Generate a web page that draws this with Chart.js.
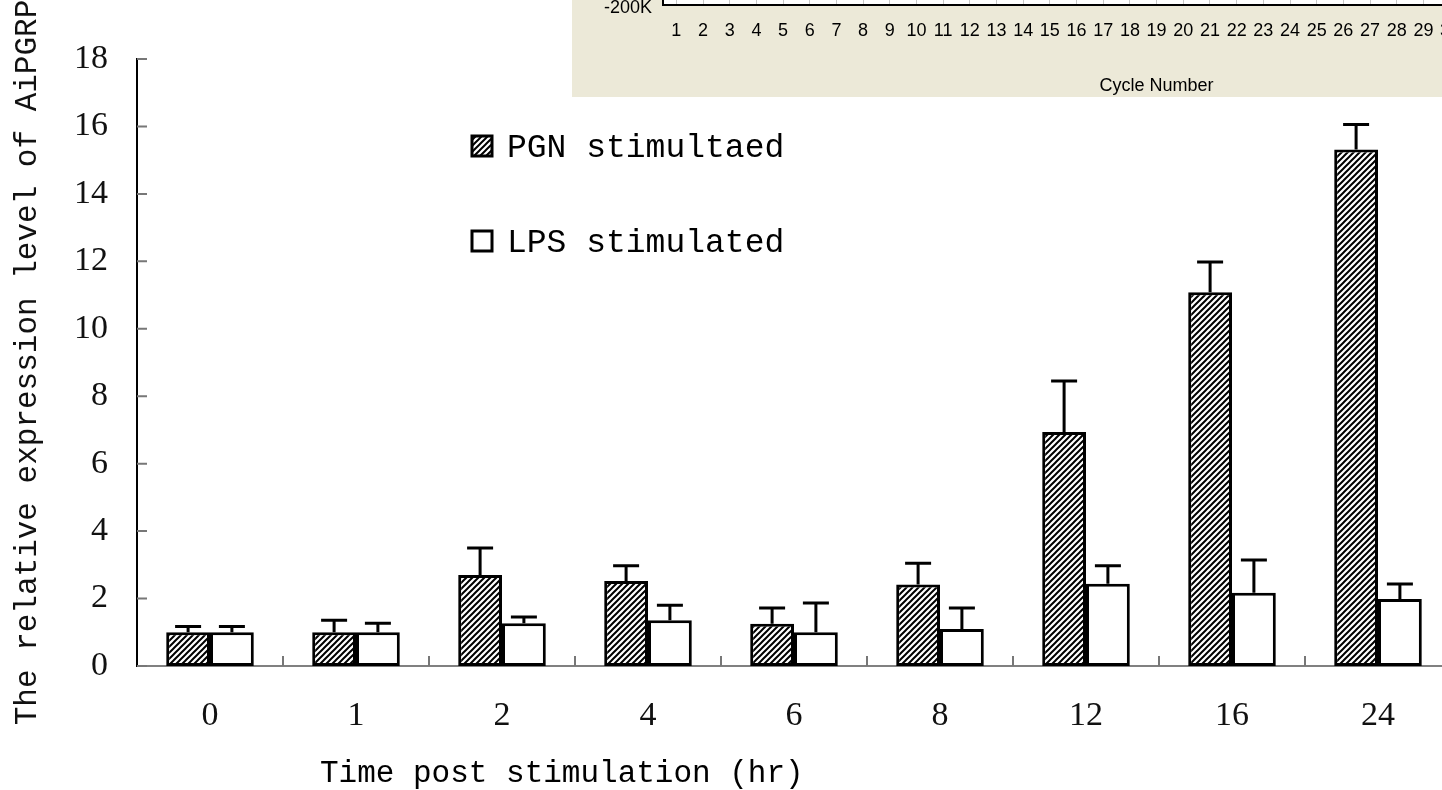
<!DOCTYPE html>
<html>
<head>
<meta charset="utf-8">
<script src="https://cdn.jsdelivr.net/npm/chart.js@4"></script>
<style>
  html, body { margin: 0; padding: 0; background: #fff; overflow: hidden; }
  #wrap { position: relative; width: 1442px; height: 790px; overflow: hidden; }
  #mainChart { position: absolute; left: 0; top: 0; }
  #insetChart { position: absolute; left: 572px; top: -198px; background: #ece9d8; }
</style>
</head>
<body>
<div id="wrap">
  <canvas id="mainChart" width="1460" height="790"></canvas>
  <canvas id="insetChart" width="1090" height="295"></canvas>
</div>
<script>
"use strict";

// data
const timePoints = ["0", "1", "2", "4", "6", "8", "12", "16", "24"];
const pgnMeans = [1.0, 1.0, 2.7, 2.52, 1.25, 2.42, 6.94, 11.08, 15.32];
const pgnErrors = [0.17, 0.36, 0.8, 0.45, 0.47, 0.63, 1.51, 0.9, 0.74];
const lpsMeans = [1.0, 1.0, 1.27, 1.36, 1.0, 1.1, 2.44, 2.17, 1.99];
const lpsErrors = [0.17, 0.27, 0.18, 0.44, 0.87, 0.62, 0.53, 0.97, 0.44];
const yTickValues = [0, 2, 4, 6, 8, 10, 12, 14, 16, 18];
const seriesNames = ["PGN stimultaed", "LPS stimulated"];

// pasted screenshot strip at the top right
const cycleNumbers = [];
for (let i = 1; i <= 37; i++) cycleNumbers.push(String(i));
const insetTickLabel = "-200K";

const MONO = "'Liberation Mono', 'DejaVu Sans Mono', monospace";
const SERIF = "'Liberation Serif', 'DejaVu Serif', serif";

function makeHatch() {
  const c = document.createElement("canvas");
  c.width = 6;
  c.height = 6;
  const g = c.getContext("2d");
  g.fillStyle = "#fff";
  g.fillRect(0, 0, 6, 6);
  g.strokeStyle = "#000";
  g.lineWidth = 2;
  g.beginPath();
  g.moveTo(-1, 7); g.lineTo(7, -1);
  g.moveTo(-1, 1); g.lineTo(1, -1);
  g.moveTo(5, 7); g.lineTo(7, 5);
  g.stroke();
  return g.createPattern(c, "repeat");
}
const hatch = makeHatch();

// upper error bars only
const errorBarPlugin = {
  id: "errorBars",
  afterDatasetsDraw(chart) {
    const ctx = chart.ctx;
    const yScale = chart.scales.y;
    chart.data.datasets.forEach((ds, i) => {
      const meta = chart.getDatasetMeta(i);
      meta.data.forEach((bar, j) => {
        const top = yScale.getPixelForValue(ds.data[j] + ds.errors[j]);
        ctx.save();
        ctx.strokeStyle = "#000";
        ctx.lineWidth = 3;
        ctx.beginPath();
        ctx.moveTo(bar.x, bar.y);
        ctx.lineTo(bar.x, top);
        ctx.moveTo(bar.x - 13, top);
        ctx.lineTo(bar.x + 13, top);
        ctx.stroke();
        ctx.restore();
      });
    });
  },
};

// tick marks pointing into the plot
const innerTicksPlugin = {
  id: "innerTicks",
  afterDraw(chart) {
    const { ctx, chartArea, scales } = chart;
    ctx.save();
    ctx.strokeStyle = "#777";
    ctx.lineWidth = 2;
    ctx.beginPath();
    scales.y.ticks.forEach((t, i) => {
      const y = scales.y.getPixelForTick(i);
      ctx.moveTo(chartArea.left, y);
      ctx.lineTo(chartArea.left + 10, y);
    });
    for (let i = 1; i <= timePoints.length; i++) {
      const x = scales.x.getPixelForValue(i - 0.5);
      ctx.moveTo(x, chartArea.bottom);
      ctx.lineTo(x, chartArea.bottom - 10);
    }
    ctx.stroke();
    ctx.restore();
  },
};

const boxLegendPlugin = {
  id: "boxLegend",
  afterDraw(chart, args, opts) {
    const ctx = chart.ctx;
    chart.data.datasets.forEach((ds, i) => {
      const y = opts.top + i * opts.rowGap;
      ctx.save();
      ctx.fillStyle = ds.backgroundColor;
      ctx.fillRect(opts.left, y - 10, 20, 20);
      ctx.strokeStyle = "#000";
      ctx.lineWidth = 3;
      ctx.strokeRect(opts.left, y - 10, 20, 20);
      ctx.fillStyle = "#000";
      ctx.font = opts.fontSize + "px " + MONO;
      ctx.textBaseline = "middle";
      ctx.fillText(ds.label, opts.left + 35, y + 2);
      ctx.restore();
    });
  },
};

const xTitlePlugin = {
  id: "xTitle",
  afterDraw(chart, args, opts) {
    const ctx = chart.ctx;
    ctx.save();
    ctx.fillStyle = "#000";
    ctx.font = opts.fontSize + "px " + MONO;
    ctx.textBaseline = "middle";
    ctx.fillText(opts.text, opts.x, opts.y);
    ctx.restore();
  },
};

new Chart(document.getElementById("mainChart").getContext("2d"), {
  type: "bar",
  data: {
    labels: timePoints,
    datasets: [
      {
        label: seriesNames[0],
        data: pgnMeans,
        errors: pgnErrors,
        backgroundColor: hatch,
        borderColor: "#000",
        borderWidth: 3,
        borderSkipped: false,
      },
      {
        label: seriesNames[1],
        data: lpsMeans,
        errors: lpsErrors,
        backgroundColor: "#fff",
        borderColor: "#000",
        borderWidth: 3,
        borderSkipped: false,
      },
    ],
  },
  options: {
    responsive: false,
    animation: false,
    layout: { padding: { top: 59, right: 9, left: 0, bottom: 0 } },
    datasets: { bar: { categoryPercentage: 0.6, barPercentage: 1.0 } },
    plugins: {
      legend: { display: false },
      tooltip: { enabled: false },
      boxLegend: { left: 472, top: 146, rowGap: 95, fontSize: 33 },
      xTitle: { text: "Time post stimulation (hr)", x: 320, y: 774, fontSize: 31 },
    },
    scales: {
      x: {
        grid: { display: false, drawTicks: false },
        border: { color: "#808080", width: 2 },
        ticks: { color: "#111", padding: 30, font: { family: SERIF, size: 34 } },
        afterFit: (scale) => { scale.height = 124; },
      },
      y: {
        min: 0,
        max: 18,
        grid: { display: false, drawTicks: false },
        border: { color: "#000", width: 2 },
        ticks: { color: "#111", padding: 29, font: { family: SERIF, size: 34 } },
        afterBuildTicks: (scale) => {
          scale.ticks = yTickValues.map((v) => ({ value: v }));
        },
        title: {
          display: true,
          text: "The relative expression level of AiPGRP",
          color: "#111",
          font: { family: MONO, size: 31 },
          padding: { top: 9, bottom: 0 },
        },
        afterFit: (scale) => { scale.width = 137; },
      },
    },
  },
  plugins: [errorBarPlugin, innerTicksPlugin, boxLegendPlugin, xTitlePlugin],
});

// white plot face of the pasted screenshot
const plotFacePlugin = {
  id: "plotFace",
  beforeDraw(chart) {
    const { ctx, chartArea } = chart;
    ctx.save();
    ctx.fillStyle = "#fff";
    ctx.fillRect(chartArea.left, chartArea.top, chartArea.right - chartArea.left, chartArea.bottom - chartArea.top);
    ctx.restore();
  },
};

const SANS = "'Liberation Sans', Arial, sans-serif";

new Chart(document.getElementById("insetChart").getContext("2d"), {
  type: "line",
  data: { labels: cycleNumbers, datasets: [] },
  options: {
    responsive: false,
    animation: false,
    layout: { padding: { top: 0, right: 10, left: 0, bottom: 0 } },
    plugins: { legend: { display: false }, tooltip: { enabled: false } },
    scales: {
      x: {
        offset: true,
        grid: { offset: false, color: "#c8c8c8", drawTicks: false },
        border: { color: "#000", width: 2 },
        ticks: { color: "#000", padding: 15, autoSkip: false, maxRotation: 0, font: { family: SANS, size: 18 } },
        title: {
          display: true,
          text: "Cycle Number",
          color: "#000",
          font: { family: SANS, size: 18 },
          padding: { top: 0, bottom: 0 },
        },
        afterFit: (scale) => { scale.height = 92; },
      },
      y: {
        min: -200000,
        max: 1000000,
        grid: { display: false, drawTicks: false },
        border: { color: "#000", width: 2 },
        ticks: {
          stepSize: 200000,
          color: "#000",
          padding: 11,
          labelOffset: 3,
          font: { family: SANS, size: 18 },
          callback: (v) => (v === -200000 ? insetTickLabel : ""),
        },
        afterFit: (scale) => { scale.width = 91; },
      },
    },
  },
  plugins: [plotFacePlugin],
});
</script>
</body>
</html>
